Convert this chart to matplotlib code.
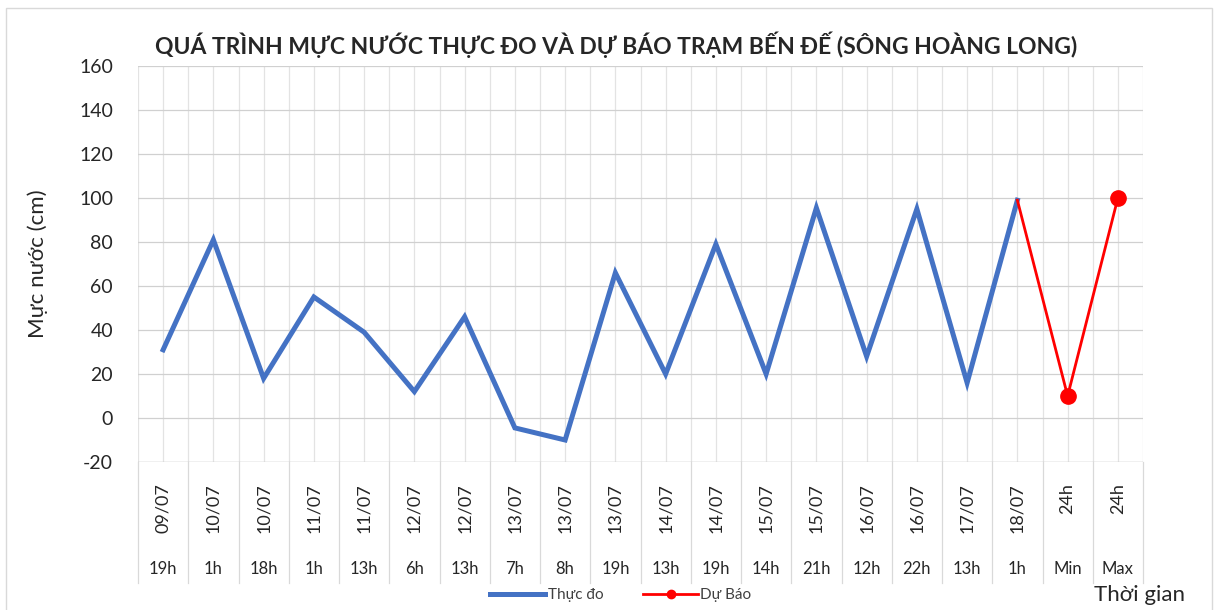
import matplotlib
matplotlib.use("Agg")
import matplotlib.pyplot as plt
import matplotlib.transforms as mtransforms
from matplotlib.lines import Line2D
import numpy as np

plt.rcParams['font.family'] = ['Lato', 'DejaVu Sans']
plt.rcParams['axes.unicode_minus'] = False

dates = ["09/07", "10/07", "10/07", "11/07", "11/07", "12/07", "12/07", "13/07", "13/07",
         "13/07", "14/07", "14/07", "15/07", "15/07", "16/07", "16/07", "17/07", "18/07",
         "24h", "24h"]
hours = ["19h", "1h", "18h", "1h", "13h", "6h", "13h", "7h", "8h",
         "19h", "13h", "19h", "14h", "21h", "12h", "22h", "13h", "1h",
         "Min", "Max"]
measured = [31, 81, 18, 55, 39, 12, 46, -4.5, -10, 66, 20, 79, 20, 95.5, 28, 95, 16, 99,
            None, None]
forecast = [None] * 17 + [99, 10, 100]
forecast_marker = [None] * 18 + [10, 100]

title = "QUÁ TRÌNH MỰC NƯỚC THỰC ĐO VÀ DỰ BÁO TRẠM BẾN ĐẾ (SÔNG HOÀNG LONG)"
ylabel = "Mực nước (cm)"
xlabel = "Thời gian"

fig = plt.figure(figsize=(12.19, 6.10), dpi=100)
ax = fig.add_axes([138 / 1219, 1 - 462 / 610, (1143 - 138) / 1219, (462 - 66) / 610])

n = len(dates)
x = np.arange(n)
m = np.array([np.nan if v is None else v for v in measured], dtype=float)
f = np.array([np.nan if v is None else v for v in forecast], dtype=float)
fm = np.array([np.nan if v is None else v for v in forecast_marker], dtype=float)

blue = "#4472C4"
red = "#FF0000"
txt = '#262626'
ax.plot(x, m, color=blue, lw=3.6, solid_joinstyle='miter', zorder=3)
ax.plot(x, f, color=red, lw=2.0, zorder=4)
ax.plot(x, fm, color=red, lw=0, marker='o', markersize=11, zorder=5)

ax.set_xlim(-0.5, n - 0.5)
ax.set_ylim(-20, 160)
ax.set_yticks(np.arange(-20, 161, 20))
ax.tick_params(axis='y', length=0, labelsize=14, pad=18, colors=txt)

# gridlines at category centres and boundaries
ax.set_xticks(x)
ax.set_xticks(np.arange(-0.5, n, 1.0), minor=True)
ax.set_xticklabels(dates, rotation=90, fontsize=13, va='top', color=txt)
ax.tick_params(axis='x', which='both', length=0, pad=15)
ax.grid(axis='x', which='major', color='#E3E3E3', lw=0.9)
ax.grid(axis='x', which='minor', color='#E3E3E3', lw=0.9)
ax.grid(axis='y', which='major', color='#D0D0D0', lw=0.9)
ax.set_axisbelow(True)
for s in ax.spines.values():
    s.set_visible(False)
ax.axhline(-20, color='#D0D0D0', lw=1.0, zorder=1)

trans = mtransforms.blended_transform_factory(ax.transData, ax.transAxes)
for b in np.arange(-0.5, n, 1.0):
    ax.plot([b, b], [0, -0.305], transform=trans, color='#D9D9D9', lw=0.9, clip_on=False)
for xi, h in zip(x, hours):
    ax.text(xi, -0.27, h, transform=trans, ha='center', va='center', fontsize=12,
            color=txt)

ax.set_ylabel(ylabel, fontsize=16, color=txt)
ax.yaxis.set_label_coords(-90 / 1005, 0.5)
fig.text(616 / 1219, 1 - 45 / 610, title, ha='center', va='center', fontsize=16.5,
         fontweight='bold', color=txt)
fig.text(1139 / 1219, 1 - 595 / 610, xlabel, ha='center', va='center', fontsize=16,
         color=txt)

handles = [Line2D([], [], color=blue, lw=3.6),
           Line2D([], [], color=red, lw=2.0, marker='o', markersize=6)]
fig.legend(handles, ["Thực đo", "Dự Báo"], loc='center', bbox_to_anchor=(621 / 1219, 1 - 595 / 610),
           ncol=2, frameon=False, fontsize=11, handlelength=3.6, columnspacing=2.6,
           handletextpad=0.15, labelcolor='#404040')

# outer chart border
border = plt.Rectangle((6 / 1219, -0.01), (1212 - 6) / 1219, 1 - 8 / 610 + 0.01,
                       transform=fig.transFigure, fill=False, edgecolor='#D9D9D9', lw=1.0)
fig.patches.append(border)

fig.savefig("out.png", dpi=100)
